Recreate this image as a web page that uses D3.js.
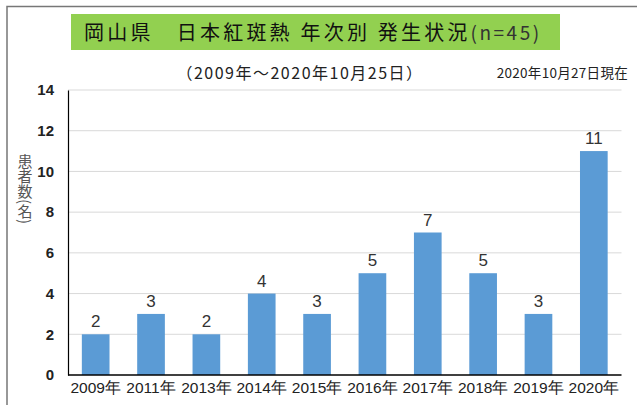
<!DOCTYPE html>
<html lang="ja">
<head>
  <meta charset="UTF-8" />
  <title>岡山県 日本紅斑熱 年次別 発生状況</title>
  <script src="https://d3js.org/d3.v7.min.js"></script>
  <style>
    body { margin: 0; background: #fff; }
    svg { display: block; }
  </style>
</head>
<body>
  <svg id="chart" width="637" height="405"></svg>
  <script>
    const years = ["2009年", "2011年", "2013年", "2014年", "2015年", "2016年", "2017年", "2018年", "2019年", "2020年"];
    const cases = [2, 3, 2, 4, 3, 5, 7, 5, 3, 11];
    const yTicks = [0, 2, 4, 6, 8, 10, 12, 14];

    const svg = d3.select("#chart");
    const jp = "'Noto Sans CJK JP', sans-serif";
    const num = "'Liberation Sans', Arial, sans-serif";

    // outer frame
    svg.append("rect")
      .attr("x", 7).attr("y", 6.5)
      .attr("width", 640).attr("height", 410)
      .attr("fill", "none")
      .attr("stroke", "#777")
      .attr("stroke-width", 1.5);

    // title box
    svg.append("rect")
      .attr("x", 71).attr("y", 14)
      .attr("width", 489).attr("height", 36)
      .attr("fill", "#92d050");

    const title = svg.append("text")
      .attr("x", 84).attr("y", 40)
      .attr("font-family", jp)
      .attr("font-size", 20)
      .attr("fill", "#111");
    title.append("tspan").attr("letter-spacing", 3.2).text("岡山県\u3000日本紅斑熱 年次別 発生状況");
    title.append("tspan").attr("font-size", 19).attr("letter-spacing", 2.5).attr("fill", "#333").text("(n=45)");

    svg.append("text")
      .attr("x", 300).attr("y", 79)
      .attr("text-anchor", "middle")
      .attr("font-family", jp)
      .attr("font-size", 16)
      .attr("letter-spacing", 1.5)
      .attr("fill", "#222")
      .text("（2009年～2020年10月25日）");

    svg.append("text")
      .attr("x", 628).attr("y", 78)
      .attr("text-anchor", "end")
      .attr("font-family", jp)
      .attr("font-size", 13.5)
      .attr("letter-spacing", 0.3)
      .attr("fill", "#222")
      .text("2020年10月27日現在");

    const plotL = 68, plotR = 621.5, plotT = 90, plotB = 375;

    const x = d3.scaleBand().domain(years).range([plotL, plotR]).paddingInner(0.5).paddingOuter(0.25);
    const y = d3.scaleLinear().domain([0, 14]).range([plotB, plotT]);

    // gridlines
    svg.append("g")
      .selectAll("line")
      .data(yTicks.filter(d => d > 0))
      .join("line")
      .attr("x1", plotL).attr("x2", plotR)
      .attr("y1", d => y(d)).attr("y2", d => y(d))
      .attr("stroke", "#d9d9d9")
      .attr("stroke-width", 1);

    // bars
    svg.append("g")
      .selectAll("rect")
      .data(cases)
      .join("rect")
      .attr("x", (d, i) => x(years[i]))
      .attr("y", d => y(d))
      .attr("width", x.bandwidth())
      .attr("height", d => plotB - y(d))
      .attr("fill", "#5b9bd5");

    // value labels
    svg.append("g")
      .selectAll("text")
      .data(cases)
      .join("text")
      .attr("x", (d, i) => x(years[i]) + x.bandwidth() / 2)
      .attr("y", d => y(d) - 7)
      .attr("text-anchor", "middle")
      .attr("font-family", num)
      .attr("font-size", 17)
      .attr("fill", "#333")
      .text(d => d);

    // y axis
    const yAxis = svg.append("g")
      .attr("transform", `translate(${plotL},0)`)
      .call(d3.axisLeft(y).tickValues(yTicks).tickSize(0).tickPadding(14));
    yAxis.select(".domain").attr("stroke", "#000").attr("stroke-width", 1.2);
    yAxis.selectAll("text")
      .attr("font-family", num)
      .attr("font-size", 15)
      .attr("font-weight", "bold")
      .attr("fill", "#222");

    // x axis
    const xAxis = svg.append("g")
      .attr("transform", `translate(0,${plotB})`)
      .call(d3.axisBottom(x).tickSize(0).tickPadding(7));
    xAxis.select(".domain").attr("d", `M${plotL},0H${plotR}`).attr("stroke", "#000").attr("stroke-width", 1.5);
    xAxis.selectAll("text")
      .attr("font-family", num)
      .attr("font-size", 15.5)
      .attr("fill", "#222");

    // y axis title
    svg.append("text")
      .attr("x", 25).attr("y", 154)
      .attr("font-family", jp)
      .attr("font-size", 15)
      .attr("fill", "#555")
      .style("writing-mode", "vertical-rl")
      .text("患者数(名)");
  </script>
</body>
</html>
